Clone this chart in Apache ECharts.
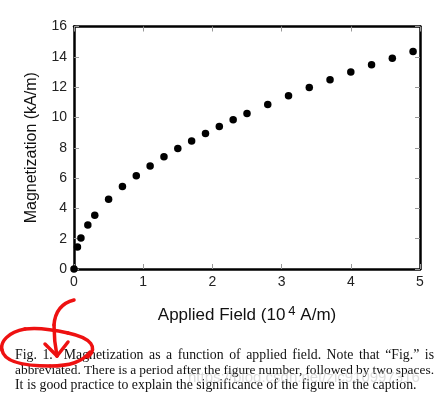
<!DOCTYPE html>
<html>
<head>
<meta charset="utf-8">
<script src="https://cdn.jsdelivr.net/npm/echarts@6/dist/echarts.min.js"></script>
<style>
html,body{margin:0;padding:0;background:#fff;}
#chart{width:442px;height:399px;}
</style>
</head>
<body>
<div id="chart"></div>
<script>
// ---- Data ----
const fieldValues = [0, 0.05, 0.10, 0.20, 0.30, 0.50, 0.70, 0.90, 1.10, 1.30, 1.50, 1.70, 1.90, 2.10, 2.30, 2.50, 2.80, 3.10, 3.40, 3.70, 4.00, 4.30, 4.60, 4.90];
const magnetizationValues = [0, 1.45, 2.05, 2.9, 3.55, 4.6, 5.44, 6.16, 6.8, 7.4, 7.95, 8.45, 8.94, 9.4, 9.84, 10.26, 10.85, 11.43, 11.98, 12.48, 12.99, 13.47, 13.91, 14.35];
const xTicks = [0, 1, 2, 3, 4, 5];
const yTicks = [0, 2, 4, 6, 8, 10, 12, 14, 16];
const xTitle = 'Applied Field (10';
const xTitleSup = '4';
const xTitleEnd = ' A/m)';
const yTitle = 'Magnetization (kA/m)';
const captionLines = [
  'Fig. 1.  Magnetization as a function of applied field. Note that \u201cFig.\u201d is',
  'abbreviated. There is a period after the figure number, followed by two spaces.',
  'It is good practice to explain the significance of the figure in the caption.'
];
const watermark = 'https://blog.csdn.net/zic910997316';

// ---- Chart ----
const chart = echarts.init(document.getElementById('chart'), null, {renderer: 'canvas'});
const sans = "'Liberation Sans', Arial, sans-serif";
const serif = "'Liberation Serif', 'Times New Roman', serif";
const frameLine = {show: true, onZero: false, lineStyle: {color: '#000', width: 2.5}};
const innerTick = {show: true, inside: true, length: 5, lineStyle: {color: '#999', width: 1}};

const data = fieldValues.map((x, i) => [x, magnetizationValues[i]]);

// caption layout (justified) built as graphic texts
const ctx = document.createElement('canvas').getContext('2d');
const capLeft = 15, capRight = 434;
const capY = [355, 370, 385];
const graphics = [];
function addText(str, x, y, font, fill, z) {
  graphics.push({type: 'text', x: x, y: y, z: z || 5,
    style: {text: str, font: font, fill: fill, textVerticalAlign: 'middle', verticalAlign: 'middle'}});
}
captionLines.forEach((line, li) => {
  let size = 13.8;
  if (li === captionLines.length - 1) {
    addText(line, capLeft, capY[li], size + 'px ' + serif, '#111');
    return;
  }
  const tokens = line.split(' ');
  const words = [];
  const gaps = [];
  let pending = 0;
  tokens.forEach((t) => {
    if (t === '') { pending += 1; return; }
    if (words.length) gaps.push(1 + pending);
    pending = 0;
    words.push(t);
  });
  const gapUnits = gaps.reduce((a, b) => a + b, 0);
  let widths, unit, font;
  for (;;) {
    font = size + 'px ' + serif;
    ctx.font = font;
    widths = words.map(w => ctx.measureText(w).width);
    const total = widths.reduce((a, b) => a + b, 0);
    unit = (capRight - capLeft - total) / gapUnits;
    if (unit >= 3 || size < 11) break;
    size -= 0.1;
  }
  let x = capLeft;
  words.forEach((w, i) => {
    addText(w, x, capY[li], font, '#111');
    x += widths[i] + (i < gaps.length ? gaps[i] * unit : 0);
  });
});
// watermark
addText(watermark, 188, 378, '15px ' + sans, 'rgba(190,190,190,0.5)', 6);
// red hand-drawn annotation (cubic bezier strokes)
const red = '#ee1111';
const redStyle = {stroke: red, lineWidth: 3.5, lineCap: 'round', fill: null};
function bez(x1, y1, c1x, c1y, c2x, c2y, x2, y2) {
  graphics.push({type: 'bezierCurve', z: 10,
    shape: {x1: x1, y1: y1, cpx1: c1x, cpy1: c1y, cpx2: c2x, cpy2: c2y, x2: x2, y2: y2},
    style: redStyle});
}
function seg(x1, y1, x2, y2) {
  graphics.push({type: 'line', z: 10, shape: {x1: x1, y1: y1, x2: x2, y2: y2}, style: redStyle});
}
bez(88, 357, 98, 348, 92, 338, 68, 333);
bez(68, 333, 55, 330, 40, 327, 25, 329);
bez(25, 329, 8, 332, 0, 342, 2, 350);
bez(2, 350, 4, 362, 25, 366, 50, 366);
bez(50, 366, 70, 366, 82, 362, 90, 352);
bez(74, 300, 62, 303, 55, 312, 54, 325);
bez(54, 325, 54, 336, 55, 346, 57, 356);
seg(45, 344, 57, 356);
seg(57, 356, 68, 342);

const option = {
  backgroundColor: '#fff',
  animation: false,
  grid: {left: 74, right: 22, top: 26.5, bottom: 130, containLabel: false},
  xAxis: [{
    type: 'value', min: xTicks[0], max: xTicks[xTicks.length - 1], interval: 1,
    position: 'bottom',
    axisLine: frameLine, axisTick: innerTick, splitLine: {show: false},
    axisLabel: {fontSize: 14, color: '#222', fontFamily: sans, margin: 6},
    name: '{a|' + xTitle + '}{s|' + xTitleSup + '}{a|' + xTitleEnd + '}',
    nameLocation: 'middle', nameGap: 36,
    nameTextStyle: {rich: {
      a: {fontSize: 17, color: '#111', fontFamily: sans},
      s: {fontSize: 13, color: '#111', fontFamily: sans, padding: [0, 0, 7, 3]}
    }}
  }, {
    type: 'value', min: xTicks[0], max: xTicks[xTicks.length - 1], interval: 1,
    position: 'top',
    axisLine: frameLine, axisTick: innerTick, splitLine: {show: false},
    axisLabel: {show: false}
  }],
  yAxis: [{
    type: 'value', min: yTicks[0], max: yTicks[yTicks.length - 1], interval: 2,
    position: 'left',
    axisLine: frameLine, axisTick: innerTick, splitLine: {show: false},
    axisLabel: {fontSize: 14, color: '#222', fontFamily: sans, margin: 7},
    name: yTitle, nameLocation: 'middle', nameGap: 34,
    nameTextStyle: {fontSize: 16, color: '#111', fontFamily: sans}
  }, {
    type: 'value', min: yTicks[0], max: yTicks[yTicks.length - 1], interval: 2,
    position: 'right',
    axisLine: frameLine, axisTick: innerTick, splitLine: {show: false},
    axisLabel: {show: false}
  }],
  series: [{
    type: 'scatter', xAxisIndex: 0, yAxisIndex: 0,
    data: data, symbol: 'circle', symbolSize: 7.5, clip: false,
    itemStyle: {color: '#000', opacity: 1}, z: 3
  }],
  graphic: graphics
};
chart.setOption(option);
</script>
</body>
</html>
